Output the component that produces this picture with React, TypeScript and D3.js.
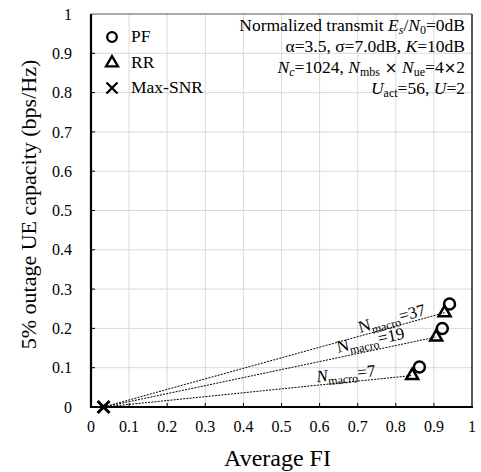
import React from 'react';
import * as d3 from 'd3';

// Max-SNR reference point (all lines start here)
const maxSnrFI = 0.033;
const maxSnrCap = 0;

// one entry per macro cell count
const macroCounts = [7, 19, 37];
const rrFI = [0.843, 0.906, 0.928];
const rrCap = [0.08, 0.178, 0.24];
const pfFI = [0.862, 0.922, 0.941];
const pfCap = [0.102, 0.2, 0.262];

const xTicks = [0, 0.1, 0.2, 0.3, 0.4, 0.5, 0.6, 0.7, 0.8, 0.9, 1];
const yTicks = [0, 0.1, 0.2, 0.3, 0.4, 0.5, 0.6, 0.7, 0.8, 0.9, 1];
const legendLabels = ['PF', 'RR', 'Max-SNR'];

const W = 481;
const H = 472;
const margin = { top: 14, right: 9, bottom: 65, left: 91 };
const serif = "'Liberation Serif', 'DejaVu Serif', serif";

// where along each line (in FI) the label starts
const labelStartFI = [0.593, 0.648, 0.706];
const labelLift = [3, 5, 3];
// the original only sets the N of the first label in italics
const labelItalic = [true, false, false];

const triPath = (s: number) => {
  const h = s * Math.sqrt(3) / 2;
  return `M0,${-h * 2 / 3}L${s / 2},${h / 3}L${-s / 2},${h / 3}Z`;
};
const crossPath = (s: number) => `M${-s},${-s}L${s},${s}M${-s},${s}L${s},${-s}`;

export default function App() {
  const x = d3.scaleLinear().domain([0, 1]).range([margin.left, W - margin.right]);
  const y = d3.scaleLinear().domain([0, 1]).range([H - margin.bottom, margin.top]);
  const x0 = margin.left, x1 = W - margin.right;
  const y0 = H - margin.bottom, y1 = margin.top;

  const fmt = (v: number) => (v === 0 || v === 1 ? String(v) : v.toFixed(1));
  const sub = 12;

  return (
    <svg width={W} height={H} style={{ position: 'absolute', left: 0, top: 0, background: '#fff', fontFamily: serif }}>
      {/* grid */}
      {xTicks.slice(1, -1).map(t => (
        <line key={'gx' + t} x1={x(t)} x2={x(t)} y1={y0} y2={y1} stroke="#d9d9d9" strokeWidth={1} />
      ))}
      {yTicks.slice(1, -1).map(t => (
        <line key={'gy' + t} x1={x0} x2={x1} y1={y(t)} y2={y(t)} stroke="#d9d9d9" strokeWidth={1} />
      ))}
      {/* frame */}
      <line x1={x0} x2={x1} y1={y1} y2={y1} stroke="#555" strokeWidth={1.2} />
      <line x1={x1} x2={x1} y1={y1} y2={y0} stroke="#222" strokeWidth={1.5} />
      {/* inward ticks */}
      {xTicks.slice(1, -1).map(t => (
        <line key={'tx' + t} x1={x(t)} x2={x(t)} y1={y0} y2={y0 - 4} stroke="#000" strokeWidth={1} />
      ))}
      {yTicks.slice(1, -1).map(t => (
        <line key={'ty' + t} x1={x0} x2={x0 + 4} y1={y(t)} y2={y(t)} stroke="#000" strokeWidth={1} />
      ))}
      <line x1={x0} x2={x0} y1={y1} y2={y0 + 1} stroke="#000" strokeWidth={2.2} />
      <line x1={x0 - 1} x2={x1 + 1} y1={y0} y2={y0} stroke="#000" strokeWidth={2.2} />

      {/* tick labels */}
      {xTicks.map(t => (
        <text key={'lx' + t} x={x(t)} y={432} fontSize={16} textAnchor="middle">{fmt(t)}</text>
      ))}
      {yTicks.map(t => (
        <text key={'ly' + t} x={72} y={y(t)} dy="0.35em" fontSize={16} textAnchor="end">{fmt(t)}</text>
      ))}

      {/* axis titles */}
      <text x={(x0 + x1) / 2 - 4} y={466} fontSize={24} textAnchor="middle">Average FI</text>
      <text transform={`translate(36,${(y0 + y1) / 2 - 6}) rotate(-90)`} fontSize={22} textAnchor="middle">
        5% outage UE capacity (bps/Hz)
      </text>

      {/* dotted lines from Max-SNR to RR points */}
      {macroCounts.map((n, i) => (
        <line key={'ln' + n} x1={x(maxSnrFI)} y1={y(maxSnrCap)} x2={x(rrFI[i])} y2={y(rrCap[i])}
          stroke="#000" strokeWidth={1} strokeDasharray="2,1.2" />
      ))}

      {/* line labels */}
      {macroCounts.map((n, i) => {
        const px0 = x(maxSnrFI), py0 = y(maxSnrCap);
        const px1 = x(rrFI[i]), py1 = y(rrCap[i]);
        const ang = Math.atan2(py1 - py0, px1 - px0);
        const lx = x(labelStartFI[i]);
        const ly = py0 + (lx - px0) * Math.tan(ang) - labelLift[i];
        return (
          <text key={'lab' + n} transform={`translate(${lx},${ly}) rotate(${ang * 180 / Math.PI})`} fontSize={17}>
            <tspan fontStyle={labelItalic[i] ? 'italic' : 'normal'}>N</tspan>
            <tspan fontSize={12} dy={4}>macro</tspan>
            <tspan dy={-4}>={n}</tspan>
          </text>
        );
      })}

      {/* markers */}
      <path d={crossPath(6)} transform={`translate(${x(maxSnrFI)},${y(maxSnrCap)})`} stroke="#000" strokeWidth={3} fill="none" />
      {macroCounts.map((n, i) => (
        <g key={'m' + n}>
          <path d={triPath(12)} transform={`translate(${x(rrFI[i])},${y(rrCap[i])})`} stroke="#000" strokeWidth={2.5} fill="none" />
          <circle cx={x(pfFI[i])} cy={y(pfCap[i])} r={5.5} stroke="#000" strokeWidth={2.5} fill="none" />
        </g>
      ))}

      {/* legend */}
      <g>
        <circle cx={112} cy={37} r={4.8} stroke="#000" strokeWidth={2.3} fill="none" />
        <path d={triPath(12)} transform="translate(112,63)" stroke="#000" strokeWidth={2.3} fill="none" />
        <path d={crossPath(5.5)} transform="translate(112,88)" stroke="#000" strokeWidth={2.3} fill="none" />
        {legendLabels.map((l, i) => (
          <text key={l} x={131} y={42 + i * 25.5} fontSize={17.5}>{l}</text>
        ))}
      </g>

      {/* annotation */}
      <g fontSize={17.5} textAnchor="end">
        <text x={465} y={31}>
          Normalized transmit <tspan fontStyle="italic">E</tspan>
          <tspan fontSize={sub} dy={3} fontStyle="italic">s</tspan>
          <tspan dy={-3}>/</tspan><tspan fontStyle="italic">N</tspan>
          <tspan fontSize={sub} dy={3}>0</tspan>
          <tspan dy={-3}>=0dB</tspan>
        </text>
        <text x={465} y={52}>
          α=3.5, σ=7.0dB, <tspan fontStyle="italic">K</tspan>=10dB
        </text>
        <text x={465} y={73}>
          <tspan fontStyle="italic">N</tspan>
          <tspan fontSize={sub} dy={3} fontStyle="italic">c</tspan>
          <tspan dy={-3}>=1024, </tspan><tspan fontStyle="italic">N</tspan>
          <tspan fontSize={sub} dy={3}>mbs</tspan>
          <tspan dy={-3} style={{ fontFamily: 'DejaVu Sans' }} fontSize={15}> × </tspan>
          <tspan fontStyle="italic">N</tspan>
          <tspan fontSize={sub} dy={3}>ue</tspan>
          <tspan dy={-3}>=4</tspan>
          <tspan style={{ fontFamily: 'DejaVu Sans' }} fontSize={15}>×</tspan>
          <tspan>2</tspan>
        </text>
        <text x={465} y={94}>
          <tspan fontStyle="italic">U</tspan>
          <tspan fontSize={sub} dy={3}>act</tspan>
          <tspan dy={-3}>=56, </tspan><tspan fontStyle="italic">U</tspan>=2
        </text>
      </g>
    </svg>
  );
}
